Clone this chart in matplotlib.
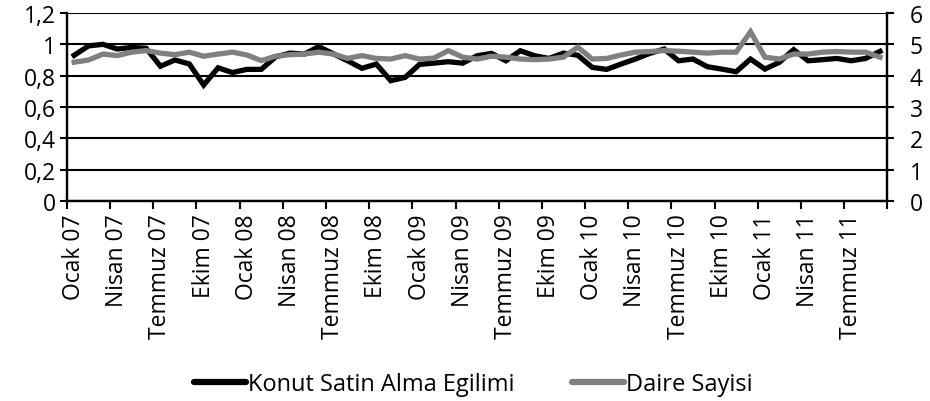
import numpy as np
import matplotlib.pyplot as plt

plt.rcParams['font.family'] = ['Open Sans', 'DejaVu Sans']
plt.rcParams['font.size'] = 16.5

# Aylık seriler: Ocak 2007 - Eylül 2011
etiket_aylar = {0: 'Ocak', 3: 'Nisan', 6: 'Temmuz', 9: 'Ekim'}

konut_egilimi = [0.93, 0.99, 1.00, 0.97, 0.98, 0.975, 0.86, 0.90, 0.875, 0.74,
                 0.85, 0.82, 0.84, 0.84, 0.92, 0.944, 0.938, 0.985, 0.94, 0.895,
                 0.847, 0.874, 0.768, 0.789, 0.872, 0.88, 0.889, 0.88, 0.927, 0.942,
                 0.895, 0.959, 0.927, 0.91, 0.944, 0.93, 0.853, 0.84, 0.874, 0.906,
                 0.942, 0.97, 0.895, 0.906, 0.857, 0.842, 0.825, 0.906, 0.842, 0.885,
                 0.966, 0.895, 0.902, 0.91, 0.895, 0.91, 0.955]

daire_sayisi = [4.43, 4.50, 4.69, 4.64, 4.75, 4.80, 4.72, 4.67, 4.75, 4.62,
                4.69, 4.75, 4.66, 4.48, 4.62, 4.67, 4.69, 4.75, 4.69, 4.55,
                4.64, 4.55, 4.53, 4.64, 4.53, 4.56, 4.80, 4.59, 4.53, 4.62,
                4.59, 4.53, 4.51, 4.53, 4.59, 4.91, 4.53, 4.55, 4.66, 4.75,
                4.77, 4.80, 4.78, 4.75, 4.72, 4.75, 4.75, 5.40, 4.59, 4.53,
                4.69, 4.69, 4.75, 4.77, 4.75, 4.75, 4.59]

n = len(konut_egilimi)
x = np.arange(n)
etiketler = [f"{etiket_aylar[i % 12]} {7 + i // 12:02d}" for i in range(0, n, 3)]

fig = plt.figure(figsize=(9.3, 4.02), dpi=100)
ax = fig.add_axes([0.072, 0.4975, 0.882, 0.4677])
ax2 = ax.twinx()

ax.plot(x, konut_egilimi, color='black', linewidth=3.8, solid_joinstyle='miter',
        label='Konut Satin Alma Egilimi')
ax2.plot(x, daire_sayisi, color='#808080', linewidth=3.8, solid_joinstyle='miter',
         label='Daire Sayisi')

ax.set_xlim(-0.5, n - 0.5)
ax.set_ylim(0, 1.2)
ax2.set_ylim(0, 6)

ax.set_yticks(np.arange(0, 1.21, 0.2))
ax.set_yticklabels(['0', '0,2', '0,4', '0,6', '0,8', '1', '1,2'])
ax2.set_yticks(range(0, 7))

ax.grid(axis='y', color='black', linewidth=1.5)
ax.set_axisbelow(True)

# tick çizgileri kategori sınırlarında, etiketler kategori ortasında
ax.set_xticks(np.arange(-0.5, n, 3))
ax.set_xticklabels([])
ax.set_xticks(np.arange(0, n, 3), minor=True)
ax.set_xticklabels(etiketler, minor=True, rotation=90)
ax.tick_params(axis='x', which='minor', length=0, pad=9)
ax.tick_params(axis='x', which='major', length=6, width=1.5, direction='out')
ax.tick_params(axis='y', length=5, width=1.5, direction='out', pad=3)
ax2.tick_params(axis='y', length=5, width=1.5, direction='out', pad=11)

for a in (ax, ax2):
    a.spines['top'].set_visible(False)
    for s in ('left', 'right', 'bottom'):
        a.spines[s].set_linewidth(1.6)

h1, l1 = ax.get_legend_handles_labels()
h2, l2 = ax2.get_legend_handles_labels()
leg = fig.legend(h1 + h2, l1 + l2, loc='center', bbox_to_anchor=(0.509, 0.042), ncol=2,
                 frameon=False, handlelength=2.2, handletextpad=0.1, columnspacing=2.4,
                 borderpad=0, fontsize=17)
for line in leg.get_lines():
    line.set_linewidth(4.5)
    line.set_solid_capstyle('round')

fig.savefig('out.png', dpi=100)
